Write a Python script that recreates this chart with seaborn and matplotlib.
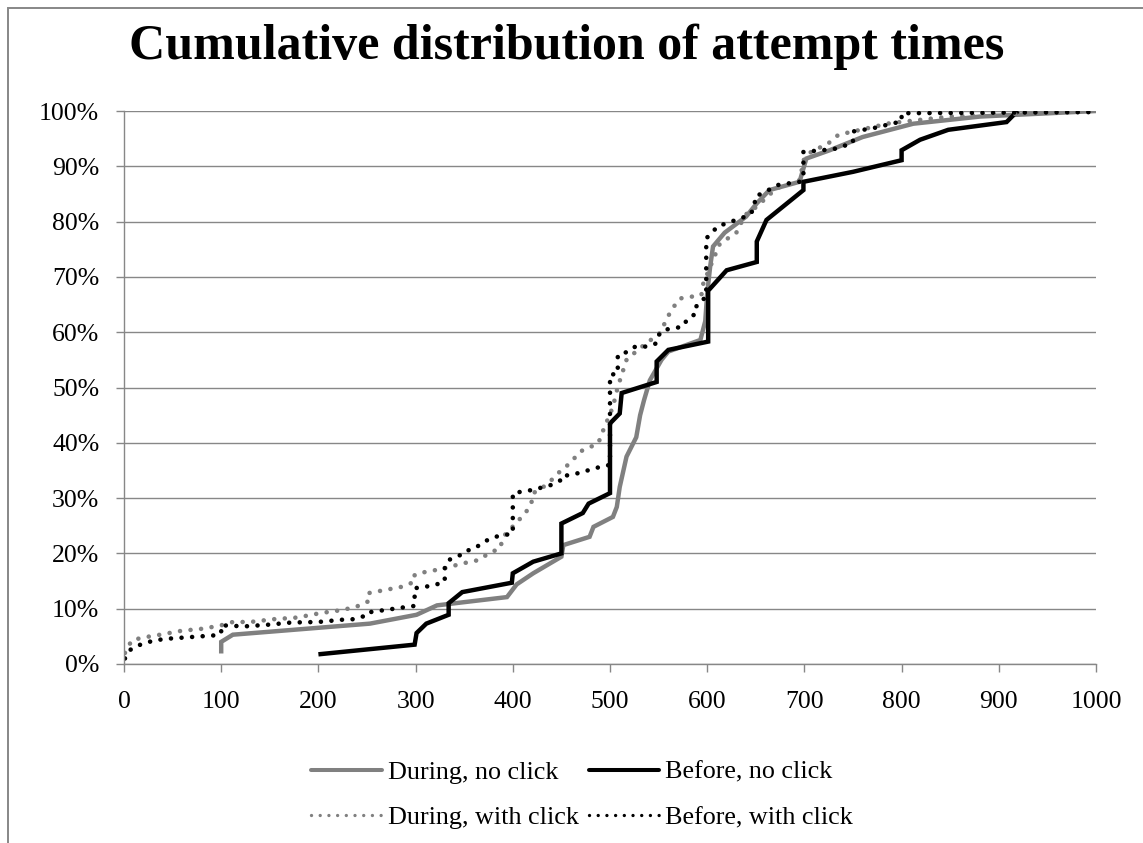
import numpy as np
import pandas as pd
import matplotlib
matplotlib.use("Agg")
import matplotlib.pyplot as plt
import matplotlib.patches as mpatches
from matplotlib.lines import Line2D
from matplotlib.ticker import FuncFormatter
import seaborn as sns

# ---------------- data ----------------
during_noclick_x = [100, 100, 112, 253, 301, 322, 394, 404, 421, 450, 452, 479, 483, 503, 507, 510,
                    517, 527, 531, 535, 541, 553, 560, 593, 598, 600, 603, 606, 618, 640, 651, 664,
                    695, 702, 726, 760, 812, 881, 1000]
during_noclick_y = [1.9, 4.0, 5.3, 7.3, 8.9, 10.6, 12.1, 14.4, 16.4, 19.4, 21.5, 23.0, 24.8, 26.6, 28.4, 32.0,
                    37.5, 41.0, 45.0, 47.7, 51.3, 55.0, 56.5, 58.6, 62.0, 67.0, 71.8, 75.5, 78.0, 80.9, 83.3, 85.7,
                    87.2, 91.4, 92.9, 95.3, 97.7, 99.0, 100.0]

before_noclick_x = [200, 299, 301, 311, 334, 334, 348, 399, 400, 421, 450, 450, 472, 478, 500, 500,
                    510, 512, 548, 548, 560, 601, 601, 620, 651, 651, 661, 699, 699, 750, 800, 800,
                    819, 848, 908, 917, 920]
before_noclick_y = [1.75, 3.5, 5.6, 7.3, 8.9, 11.0, 13.0, 14.7, 16.4, 18.5, 20.0, 25.4, 27.3, 29.0, 30.9, 43.5,
                    45.3, 49.0, 51.0, 54.7, 56.8, 58.3, 67.5, 71.2, 72.7, 76.4, 80.3, 85.7, 87.2, 89.0, 91.1, 92.9,
                    94.8, 96.6, 98.0, 99.6, 100.0]

during_click_x = [1, 8, 20, 34, 59, 82, 100, 112, 130, 154, 178, 202, 226, 241, 251, 251, 263, 287, 299, 299,
                  306, 330, 346, 365, 376, 387, 390, 413, 419, 421, 430, 442, 450, 459, 469, 488, 491, 503,
                  508, 517, 530, 551, 558, 563, 572, 594, 596, 603, 613, 630, 639, 651, 671, 695, 700, 709,
                  723, 735, 788, 850, 1000]
during_click_y = [2.0, 4.3, 4.8, 5.2, 6.0, 6.4, 7.0, 7.6, 7.6, 8.1, 8.4, 9.2, 9.8, 10.5, 11.3, 12.8, 13.2, 14.0, 14.9, 16.1,
                  16.5, 17.3, 18.1, 18.8, 20.1, 20.9, 23.0, 27.3, 29.0, 30.9, 31.8, 33.6, 35.1, 36.3, 38.4, 39.9, 41.4, 46.5,
                  50.1, 55.0, 57.0, 59.8, 62.2, 64.0, 66.1, 66.7, 68.8, 71.8, 76.0, 78.0, 81.2, 82.7, 86.0, 87.5, 91.6, 92.9,
                  93.9, 95.7, 97.8, 99.0, 100.0]

before_click_x = [1, 6, 11, 20, 32, 47, 71, 95, 100, 100, 124, 148, 172, 200, 224, 236, 248, 250, 270, 294,
                  299, 299, 311, 320, 330, 330, 334, 346, 349, 361, 370, 382, 400, 400, 421, 440, 450, 450,
                  467, 491, 500, 500, 508, 508, 519, 526, 538, 548, 551, 555, 575, 580, 589, 589, 599, 599,
                  605, 610, 620, 644, 649, 649, 660, 672, 695, 699, 699, 730, 750, 750, 771, 792, 800, 800, 1000]
before_click_y = [1.0, 2.5, 3.1, 3.7, 4.3, 4.6, 4.9, 5.2, 5.5, 7.0, 6.8, 7.1, 7.5, 7.6, 8.0, 8.1, 8.7, 9.3, 9.8, 10.4,
                  10.5, 13.7, 14.0, 14.3, 14.9, 17.6, 18.8, 19.7, 20.3, 20.9, 22.1, 23.0, 23.6, 30.9, 31.5, 32.4, 33.3, 33.9,
                  34.5, 35.7, 36.0, 52.3, 52.5, 55.9, 56.5, 57.4, 57.4, 58.0, 59.8, 60.4, 61.0, 62.5, 63.4, 64.9, 66.4, 77.0,
                  77.9, 79.1, 79.7, 81.2, 82.7, 84.5, 85.4, 86.6, 87.2, 87.8, 92.6, 93.1, 94.2, 96.3, 96.9, 97.8, 98.1, 99.6, 99.8]

series_labels = ["During, no click", "Before, no click", "During, with click", "Before, with click"]
x_ticks = [0, 100, 200, 300, 400, 500, 600, 700, 800, 900, 1000]
y_ticks = [0, 10, 20, 30, 40, 50, 60, 70, 80, 90, 100]
title_text = "Cumulative distribution of attempt times"

# ---------------- styling ----------------
sns.set_theme(style="white")
plt.rcParams["font.family"] = ["Liberation Serif", "DejaVu Serif"]
plt.rcParams["text.color"] = "black"

GRAY = "#808080"
GRID = "#878787"
W, H, DPI = 1143, 843, 100
SERIF = ["Liberation Serif", "DejaVu Serif"]

fig = plt.figure(figsize=(W / DPI, H / DPI), dpi=DPI)
fig.patch.set_facecolor("white")
ax = fig.add_axes([124 / W, 1 - 664 / H, (1096 - 124) / W, (664 - 111) / H])

DOT = (0, (0.01, 2.3))
series = [
    (during_noclick_x, during_noclick_y, GRAY, "-"),
    (before_noclick_x, before_noclick_y, "black", "-"),
    (during_click_x, during_click_y, GRAY, DOT),
    (before_click_x, before_click_y, "black", DOT),
]
for (xs, ys, col, ls), lab in zip(series, series_labels):
    df = pd.DataFrame({"x": xs, "y": ys})
    dotted = ls != "-"
    sns.lineplot(data=df, x="x", y="y", sort=False, estimator=None, ax=ax, color=col,
                 linewidth=3.3 if dotted else 3.2, linestyle=ls, legend=False,
                 dash_capstyle="round", solid_capstyle="butt", solid_joinstyle="miter")

ax.set_xlim(0, 1000)
ax.set_ylim(0, 100)
ax.set_xticks(x_ticks)
ax.set_yticks(y_ticks)
ax.yaxis.set_major_formatter(FuncFormatter(lambda v, p: f"{int(v)}%"))
ax.set_xlabel("")
ax.set_ylabel("")
ax.grid(axis="y", color=GRID, linewidth=1.0)
ax.grid(axis="x", visible=False)
ax.set_axisbelow(True)
for s in ["top", "right"]:
    ax.spines[s].set_visible(False)
for s in ["left", "bottom"]:
    ax.spines[s].set_color(GRID)
    ax.spines[s].set_linewidth(1.0)
ax.tick_params(axis="both", which="major", direction="out", length=5.8, width=1.0, color=GRID,
               labelsize=18.5, labelcolor="black")
ax.tick_params(axis="y", pad=12, left=True)
ax.tick_params(axis="x", pad=14, bottom=True)
for lab in ax.get_xticklabels() + ax.get_yticklabels():
    lab.set_fontfamily(SERIF)

fig.text(567 / W, 1 - 47 / H, title_text, ha="center", va="center",
         fontsize=36, fontweight="bold", color="black", family=SERIF)

# legend (row-major order -> matplotlib column-major)
handles = [
    Line2D([], [], color=GRAY, linewidth=2.9, linestyle="-"),
    Line2D([], [], color=GRAY, linewidth=2.4, linestyle=(0, (0.01, 2.6)), dash_capstyle="round"),
    Line2D([], [], color="black", linewidth=2.9, linestyle="-"),
    Line2D([], [], color="black", linewidth=2.4, linestyle=(0, (0.01, 2.6)), dash_capstyle="round"),
]
labels = [series_labels[0], series_labels[2], series_labels[1], series_labels[3]]
leg = fig.legend(handles, labels, loc="center", bbox_to_anchor=(582 / W, 1 - 795 / H), ncol=2,
                 frameon=False, handlelength=2.7, handletextpad=0.23,
                 columnspacing=0.38, labelspacing=0.85, prop={"family": SERIF, "size": 18.8})
for t in leg.get_texts():
    t.set_color("black")

# outer frame
fig.patches.append(mpatches.Rectangle((8 / W, -0.05), 1.2, 1 - 8 / H + 0.05, transform=fig.transFigure,
                                      fill=False, edgecolor=GRID, linewidth=1.4))

fig.savefig("out.png", dpi=DPI, facecolor="white")
